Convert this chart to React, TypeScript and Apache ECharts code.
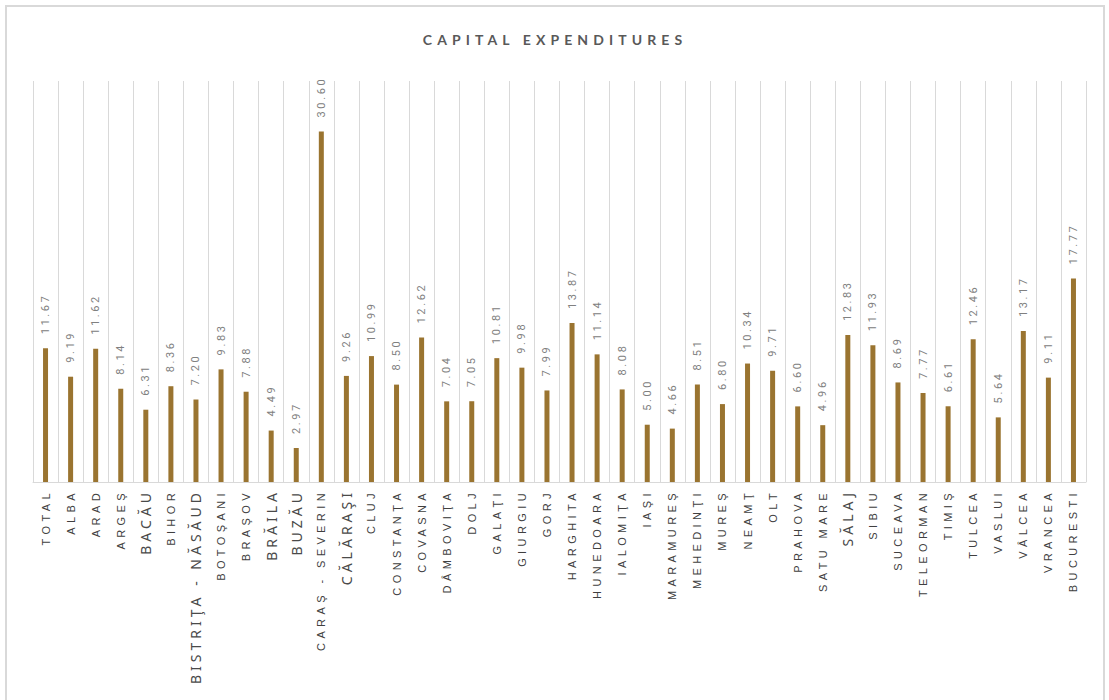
import React, { useEffect, useRef } from "react";
import * as echarts from "echarts";

const categories: string[] = [
  "TOTAL", "ALBA", "ARAD", "ARGEŞ", "BACĂU", "BIHOR", "BISTRIŢA - NĂSĂUD", "BOTOŞANI",
  "BRAŞOV", "BRĂILA", "BUZĂU", "CARAŞ - SEVERIN", "CĂLĂRAŞI", "CLUJ", "CONSTANŢA", "COVASNA",
  "DÂMBOVIŢA", "DOLJ", "GALAŢI", "GIURGIU", "GORJ", "HARGHITA", "HUNEDOARA", "IALOMIŢA",
  "IAŞI", "MARAMUREŞ", "MEHEDINŢI", "MUREŞ", "NEAMŢ", "OLT", "PRAHOVA", "SATU MARE",
  "SĂLAJ", "SIBIU", "SUCEAVA", "TELEORMAN", "TIMIŞ", "TULCEA", "VASLUI", "VÂLCEA",
  "VRANCEA", "BUCURESTI",
];

const values: number[] = [
  11.67, 9.19, 11.62, 8.14, 6.31, 8.36, 7.2, 9.83,
  7.88, 4.49, 2.97, 30.6, 9.26, 10.99, 8.5, 12.62,
  7.04, 7.05, 10.81, 9.98, 7.99, 13.87, 11.14, 8.08,
  5.0, 4.66, 8.51, 6.8, 10.34, 9.71, 6.6, 4.96,
  12.83, 11.93, 8.69, 7.77, 6.61, 12.46, 5.64, 13.17,
  9.11, 17.77,
];

// labels that appear in a larger face in the original
const largeLabels: string[] = ["BACĂU", "BISTRIŢA - NĂSĂUD", "BRĂILA", "BUZĂU", "CĂLĂRAŞI", "SĂLAJ"];

const titleText = "CAPITAL EXPENDITURES";

const css = `
.capex-chart text[style*="Lato"], .capex-chart text[font-family*="Lato"] { letter-spacing: 5.1px; }
.capex-chart text[style*="Liberation"], .capex-chart text[font-family*="Liberation"] { letter-spacing: 4.4px; }
.capex-chart text[style*="Noto"], .capex-chart text[font-family*="Noto"] { letter-spacing: 4px; }
.capex-chart text[style*="Roboto"], .capex-chart text[font-family*="Roboto"] { letter-spacing: 2.6px; }
`;

export default function App() {
  const ref = useRef<HTMLDivElement>(null);

  useEffect(() => {
    if (!ref.current) return;
    const chart = echarts.init(ref.current, undefined, { renderer: "svg" });
    chart.setOption({
      animation: false,
      backgroundColor: "#ffffff",
      title: {
        text: titleText,
        left: "center",
        top: 20,
        textStyle: {
          fontFamily: "Lato",
          fontSize: 14,
          fontWeight: "bold",
          color: "#595959",
        },
      },
      grid: { left: 26, right: 17, top: 74, bottom: 218, containLabel: false },
      xAxis: {
        type: "category",
        data: categories,
        axisTick: { show: false },
        axisLine: { show: true, lineStyle: { color: "#d9d9d9", width: 1 } },
        splitLine: { show: true, interval: 0, lineStyle: { color: "#d9d9d9", width: 1 } },
        axisLabel: {
          interval: 0,
          rotate: 90,
          margin: 7,
          color: "#404040",
          formatter: (v: string) => (largeLabels.includes(v) ? `{b|${v}}` : `{n|${v}}`),
          rich: {
            b: { fontFamily: "Noto Sans", fontSize: 14, color: "#4a4a4a" },
            n: { fontFamily: "Liberation Sans", fontSize: 11, color: "#404040" },
          },
        },
      },
      yAxis: {
        type: "value",
        min: 0,
        max: 35,
        show: false,
        splitLine: { show: false },
      },
      series: [
        {
          type: "bar",
          data: values,
          barWidth: 5,
          itemStyle: { color: "#9a7430" },
          label: {
            show: true,
            position: "top",
            rotate: 90,
            align: "left",
            verticalAlign: "middle",
            distance: 14,
            fontFamily: "Roboto",
            fontSize: 11,
            color: "#808080",
            formatter: (p: any) => Number(p.value).toFixed(2),
          },
        },
      ],
    });
    return () => chart.dispose();
  }, []);

  return (
    <div
      style={{
        position: "absolute",
        left: 5,
        top: 5,
        width: 1096,
        height: 693,
        borderTop: "2px solid #d9d9d9",
        borderLeft: "2px solid #d9d9d9",
        borderRight: "2px solid #d9d9d9",
        background: "#fff",
      }}
    >
      <style>{css}</style>
      <div ref={ref} className="capex-chart" style={{ width: 1096, height: 693 }} />
    </div>
  );
}
